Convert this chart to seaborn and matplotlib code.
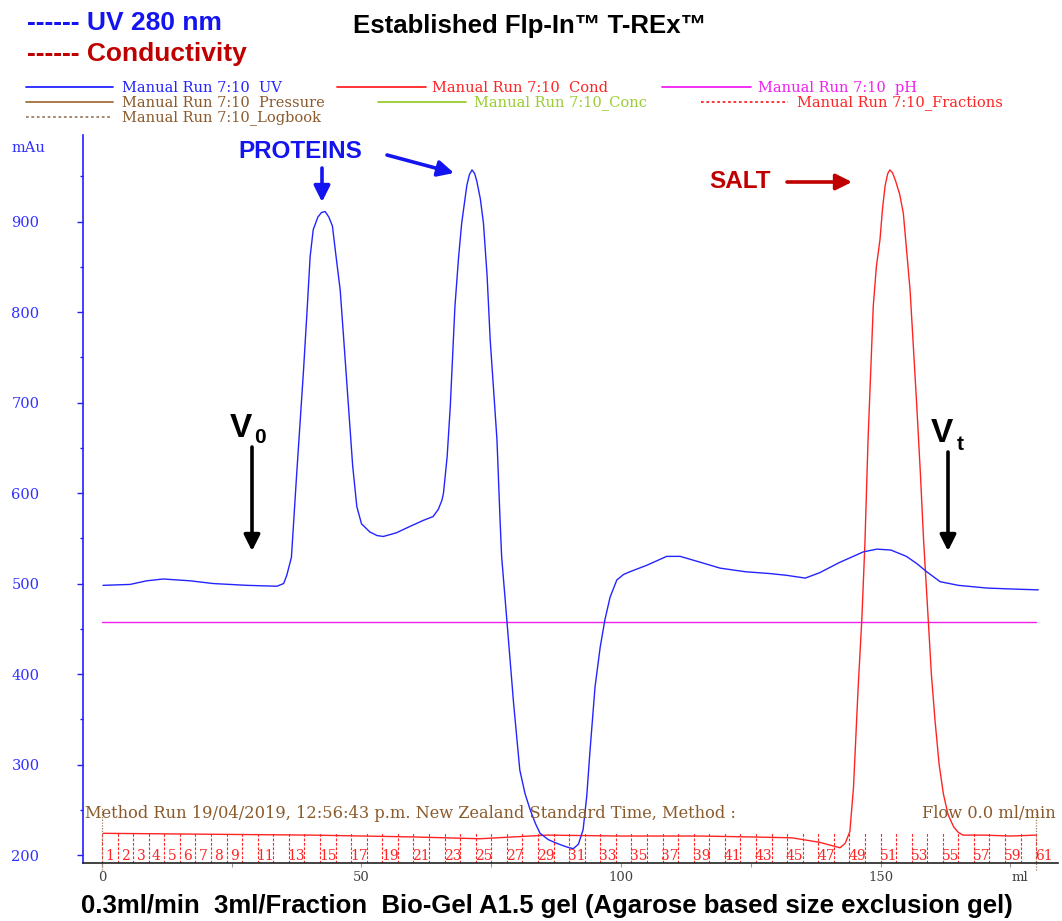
import matplotlib
matplotlib.use("Agg")
import matplotlib.pyplot as plt
from matplotlib.lines import Line2D
from matplotlib.ticker import FixedLocator
import numpy as np
import pandas as pd
import seaborn as sns

# ---------------- data ----------------
uv_ml = [0.2, 5.4, 8.6, 11.8, 17.0, 21.4, 27.9, 33.7, 35.0, 35.6, 36.5, 37.5, 38.8,
         39.5, 40.1, 40.7, 41.6, 42.3, 43.0, 43.7, 44.4, 45.0, 45.9, 46.7, 47.5,
         48.3, 49.1, 50.0, 51.6, 53.0, 54.2, 56.7, 59.3, 62.0, 63.8, 64.8, 65.5,
         65.8, 66.5, 67.1, 68.0, 68.7, 69.3, 70.3, 70.8, 71.3, 71.8, 72.2, 72.9,
         73.5, 74.2, 74.8, 75.5, 76.1, 76.7, 77.0, 78.0, 79.3, 80.5, 81.5, 82.5,
         83.5, 84.4, 86.0, 87.6, 89.5, 90.8, 91.8, 92.7, 93.4, 94.0, 95.0, 96.0,
         96.9, 97.9, 99.2, 100.5, 101.7, 104.9, 108.8, 111.4, 115.0, 119.1, 124.0,
         128.7, 132.0, 135.5, 138.3, 142.0, 146.7, 149.3, 152.0, 155.0, 157.0,
         158.9, 161.5, 165.0, 170.5, 175.0, 180.4]
uv_mau = [498, 499, 503, 505, 503, 500, 498, 497, 500, 509, 529, 620, 733,
          800, 861, 891, 905, 910, 911, 905, 895, 866, 824, 760, 695,
          630, 585, 566, 557, 553, 552, 556, 563, 570, 574, 582, 592,
          600, 640, 695, 806, 860, 898, 940, 952, 957, 953, 945, 925,
          898, 840, 769, 710, 659, 570, 530, 460, 368, 294, 268, 250,
          235, 224, 217, 213, 209, 207, 212, 228, 265, 313, 386, 430,
          460, 485, 504, 510, 513, 520, 530, 530, 524, 517, 513,
          511, 509, 506, 512, 523, 535, 538, 537, 530, 522,
          513, 502, 498, 495, 494, 493]

cond_ml = [0.2, 20.0, 40.7, 60.0, 72.8, 85.7, 100.0, 115.2, 125.0, 133.0, 138.3,
           142.2, 143.2, 144.1, 144.8, 145.7, 146.4, 147.0, 147.6, 148.1, 148.6,
           149.2, 149.9, 150.4, 150.9, 151.4, 151.8, 152.3, 152.9, 153.7, 154.4,
           155.0, 155.7, 156.3, 157.0, 157.7, 158.3, 159.2, 159.8, 160.5, 161.3,
           162.1, 163.0, 164.1, 165.0, 165.9, 170.0, 175.0, 180.0]
cond_mau = [224, 223, 222, 220, 218, 222, 221, 221, 220, 219, 214,
            208, 213, 226, 275, 386, 460, 545, 659, 732, 806,
            850, 880, 915, 940, 953, 957, 954, 945, 930, 909,
            870, 824, 765, 695, 620, 548, 460, 400, 349, 300,
            268, 245, 231, 225, 222, 222, 221, 222]

ph_ml = [0.0, 180.0]
ph_mau = [458, 458]

fraction_size_ml = 3.0
fraction_numbers = list(range(1, 62))
fraction_labels = [str(n) for n in range(1, 10)] + [str(n) for n in range(11, 62, 2)]
logbook_ml = [0.0, 180.0]

y_ticks = [200, 300, 400, 500, 600, 700, 800, 900]
x_ticks = [0, 50, 100, 150]

# ---------------- figure ----------------
W, H = 1062, 921
sns.set_theme(style="white")
plt.rcParams["font.family"] = ["DejaVu Serif"]

fig = plt.figure(figsize=(W / 100, H / 100), dpi=100)
fig.patch.set_facecolor("white")
L, R, T, B = 83, 1058, 135, 863
ax = fig.add_axes([L / W, 1 - B / H, (R - L) / W, (B - T) / H])
ax.set_facecolor("white")

BLUE = "#2424FF"
RED = "#FF2424"
MAG = "#F020F0"
BROWN = "#8B5A2B"

uv_df = pd.DataFrame({"ml": uv_ml, "mAU": uv_mau})
cond_df = pd.DataFrame({"ml": cond_ml, "mAU": cond_mau})
ph_df = pd.DataFrame({"ml": ph_ml, "mAU": ph_mau})

sns.lineplot(data=ph_df, x="ml", y="mAU", ax=ax, color=MAG, lw=1.0, estimator=None, sort=False)
sns.lineplot(data=cond_df, x="ml", y="mAU", ax=ax, color=RED, lw=1.0, estimator=None, sort=False)
sns.lineplot(data=uv_df, x="ml", y="mAU", ax=ax, color=BLUE, lw=1.0, estimator=None, sort=False)

# fraction markers
frac_edges = [(n - 1) * fraction_size_ml for n in fraction_numbers]
ax.vlines(frac_edges, 191.5, 224, colors=RED, linestyles=(0, (2.5, 1.5)), lw=0.8)
for lab in fraction_labels:
    n = int(lab)
    ax.text((n - 1) * fraction_size_ml + fraction_size_ml / 2, 199, lab, color=RED,
            fontsize=10, ha="center", va="center")
ax.vlines(logbook_ml, 184, 252, colors="#A08060", linestyles=(0, (1, 1.2)), lw=0.9, clip_on=False)

ax.set_xlim(-3.66, 184.2)
ax.set_ylim(191.2, 995.6)
ax.set_xlabel("")
ax.set_ylabel("")

for s in ["top", "right"]:
    ax.spines[s].set_visible(False)
ax.spines["left"].set_color("#2020FF")
ax.spines["left"].set_linewidth(1.2)
ax.spines["bottom"].set_color("#222222")
ax.spines["bottom"].set_linewidth(1.2)

ax.yaxis.set_major_locator(FixedLocator(y_ticks))
ax.yaxis.set_minor_locator(FixedLocator([t + 50 for t in y_ticks]))
ax.set_yticklabels([str(t) for t in y_ticks])
ax.tick_params(axis="y", which="major", direction="out", length=4, width=1, color="#2020FF",
               labelcolor="#3030FF", labelsize=10.5, pad=47.5, left=True)
ax.tick_params(axis="y", which="minor", direction="out", length=2, width=1, color="#2020FF", left=True)
plt.setp(ax.get_yticklabels(), ha="left")

ax.xaxis.set_major_locator(FixedLocator(x_ticks))
ax.xaxis.set_minor_locator(FixedLocator([25, 75, 125, 175]))
ax.set_xticklabels([str(t) for t in x_ticks])
ax.tick_params(axis="x", which="major", direction="out", length=3, width=0.8, color="#999999",
               labelcolor="#404040", labelsize=9.5, pad=3, bottom=True)
ax.tick_params(axis="x", which="minor", direction="out", length=3, width=0.8, color="#999999", bottom=True)


def P(x, y):
    return (x / W, 1 - y / H)


fig.text(*P(1020, 877), "ml", color="#404040", fontsize=9.5, ha="center", va="center")
fig.text(*P(12, 148), "mAu", color="#3030FF", fontsize=10.5, ha="left", va="center")

# method line
fig.text(*P(85, 814), "Method Run 19/04/2019, 12:56:43 p.m. New Zealand Standard Time, Method :",
         color=BROWN, fontsize=11.7, ha="left", va="center")
fig.text(*P(922, 814), "Flow 0.0 ml/min", color=BROWN, fontsize=11.7, ha="left", va="center")

# headings
SANS = ["Liberation Sans", "DejaVu Sans"]
fig.text(*P(27, 23), "------ UV 280 nm", color="#1414F0", fontsize=19, fontweight="bold",
         family=SANS, ha="left", va="center")
fig.text(*P(27, 54), "------ Conductivity", color="#C00000", fontsize=19, fontweight="bold",
         family=SANS, ha="left", va="center")
fig.text(*P(530, 26), "Established Flp-In\u2122 T-REx\u2122", color="black", fontsize=18.5,
         fontweight="bold", family=SANS, ha="center", va="center")
fig.text(*P(547, 906), "0.3ml/min  3ml/Fraction  Bio-Gel A1.5 gel (Agarose based size exclusion gel)",
         color="black", fontsize=18.5, fontweight="bold", family=SANS, ha="center", va="center")

# legend
legend_items = [
    (26, 113, 87, BLUE, "-", "Manual Run 7:10  UV", 122, BLUE),
    (337, 426, 87, RED, "-", "Manual Run 7:10  Cond", 432, RED),
    (662, 751, 87, MAG, "-", "Manual Run 7:10  pH", 758, MAG),
    (26, 113, 102, "#A0703C", "-", "Manual Run 7:10  Pressure", 122, BROWN),
    (378, 466, 102, "#9ACD32", "-", "Manual Run 7:10_Conc", 474, "#9ACD32"),
    (701, 788, 102, RED, (0, (1.5, 1.5)), "Manual Run 7:10_Fractions", 797, RED),
    (26, 111, 117, "#A08060", (0, (1.5, 1.5)), "Manual Run 7:10_Logbook", 122, BROWN),
]
for x0, x1, y, c, ls, lab, tx, tc in legend_items:
    (fx0, fy), (fx1, _) = P(x0, y), P(x1, y)
    fig.add_artist(Line2D([fx0, fx1], [fy, fy], color=c, lw=1.3, ls=ls, transform=fig.transFigure))
    fig.text(*P(tx, y + 1), lab, color=tc, fontsize=10.5, ha="left", va="center")

# annotations
fig.text(*P(300, 152), "PROTEINS", color="#1414F0", fontsize=17.5, fontweight="bold",
         family=SANS, ha="center", va="center")
fig.text(*P(740, 182), "SALT", color="#C00000", fontsize=17.5, fontweight="bold",
         family=SANS, ha="center", va="center")


def arrow(x0, y0, x1, y1, color, lw=2.6):
    ax.annotate("", xy=(x1, H - y1), xytext=(x0, H - y0), xycoords="figure pixels",
                textcoords="figure pixels",
                arrowprops=dict(arrowstyle="-|>,head_length=0.8,head_width=0.4", color=color,
                                lw=lw, mutation_scale=12, shrinkA=0, shrinkB=0),
                annotation_clip=False)


arrow(322, 168, 322, 202, "#1414F0")
arrow(387, 155, 454, 173, "#1414F0")
arrow(787, 182, 852, 182, "#C00000")
arrow(252, 447, 252, 551, "black")
arrow(948, 452, 948, 551, "black")

fig.text(*P(230, 437), "V", color="black", fontsize=24, fontweight="bold", family=SANS,
         ha="left", va="baseline")
fig.text(*P(254, 443), "0", color="black", fontsize=15, fontweight="bold", family=SANS,
         ha="left", va="baseline")
fig.text(*P(931, 442), "V", color="black", fontsize=24, fontweight="bold", family=SANS,
         ha="left", va="baseline")
fig.text(*P(957, 450), "t", color="black", fontsize=15, fontweight="bold", family=SANS,
         ha="left", va="baseline")

fig.savefig("out.png", dpi=100, facecolor="white")
